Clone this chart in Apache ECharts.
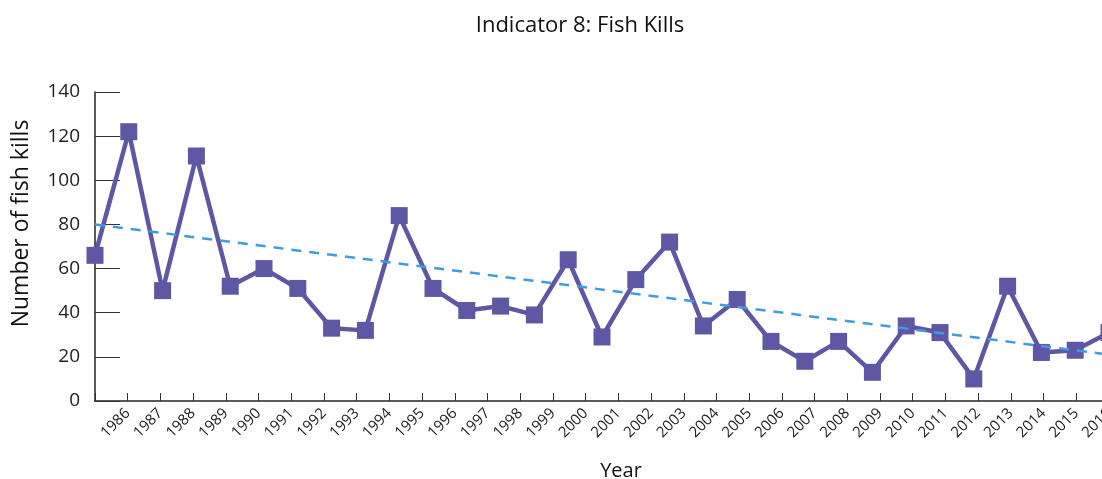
<!DOCTYPE html>
<html>
<head>
<meta charset="utf-8">
<script src="https://cdn.jsdelivr.net/npm/echarts@6/dist/echarts.min.js"></script>
<style>
  html, body { margin: 0; padding: 0; background: #fff; }
  #chart { width: 1102px; height: 479px; }
</style>
</head>
<body>
<div id="chart"></div>
<script>
const years = ['1986', '1987', '1988', '1989', '1990', '1991', '1992', '1993', '1994', '1995',
  '1996', '1997', '1998', '1999', '2000', '2001', '2002', '2003', '2004', '2005',
  '2006', '2007', '2008', '2009', '2010', '2011', '2012', '2013', '2014', '2015', '2016']
const fishKills = [66, 122, 50, 111, 52, 60, 51, 33, 32, 84,
  51, 41, 43, 39, 64, 29, 55, 72, 34, 46,
  27, 18, 27, 13, 34, 31, 10, 52, 22, 23, 31]
// trend line read at both ends
const trendStart = 80
const trendEnd = 21
const yTicks = [0, 20, 40, 60, 80, 100, 120, 140]

const trend = years.map((y, i) => (i === 0 ? trendStart : i === years.length - 1 ? trendEnd : null))
// tick labels sit one slot to the right, on their own axis
const tickLabels = [''].concat(years)

const font = '"Open Sans", "Noto Sans", sans-serif'
const chart = echarts.init(document.getElementById('chart'))

const option = {
  animation: false,
  title: {
    text: 'Indicator 8: Fish Kills',
    left: 575,
    top: 10,
    textAlign: 'center',
    textStyle: { fontFamily: font, fontSize: 22, fontWeight: 'normal', color: '#111' }
  },
  grid: { left: 95, top: 92, width: 1014, height: 309, containLabel: false, outerBoundsMode: 'none' },
  xAxis: [
    {
      type: 'category',
      data: years,
      boundaryGap: false,
      axisLine: { show: false },
      axisTick: { show: false },
      axisLabel: { show: false }
    },
    {
      type: 'category',
      data: tickLabels,
      position: 'bottom',
      boundaryGap: false,
      name: 'Year',
      nameLocation: 'middle',
      nameGap: 60,
      nameTextStyle: { fontFamily: font, fontSize: 20, color: '#111', padding: [0, 0, 0, 38] },
      axisLine: { show: true, lineStyle: { color: '#222', width: 1.5 } },
      axisTick: { show: true, inside: true, length: 8, interval: 0, lineStyle: { color: '#333', width: 1 } },
      axisLabel: {
        interval: 0,
        rotate: 45,
        margin: 10,
        fontFamily: font,
        fontSize: 15,
        color: '#222'
      }
    }
  ],
  yAxis: {
    type: 'value',
    min: 0,
    max: 140,
    interval: 20,
    name: 'Number of fish kills',
    nameLocation: 'middle',
    nameGap: 62,
    nameTextStyle: { fontFamily: font, fontSize: 23, color: '#111', padding: [0, 0, 0, 46] },
    axisLine: { show: true, lineStyle: { color: '#222', width: 1.5 } },
    axisTick: { show: true, inside: true, length: 25, lineStyle: { color: '#333', width: 1 } },
    splitLine: { show: false },
    axisLabel: {
      margin: 15,
      fontFamily: font,
      fontSize: 19,
      color: '#222',
      formatter: v => (yTicks.includes(v) ? String(v) : '')
    }
  },
  series: [
    {
      name: 'Trend',
      type: 'line',
      xAxisIndex: 0,
      data: trend,
      connectNulls: true,
      symbol: 'none',
      lineStyle: { color: '#3d9de2', width: 2.5, type: [10, 8] },
      z: 3
    },
    {
      name: 'Fish kills',
      type: 'line',
      xAxisIndex: 0,
      data: fishKills,
      symbol: 'rect',
      symbolSize: 17,
      itemStyle: { color: '#5e57a3' },
      lineStyle: { color: '#5e57a3', width: 4.5 },
      z: 2
    }
  ]
}

chart.setOption(option)
</script>
</body>
</html>
